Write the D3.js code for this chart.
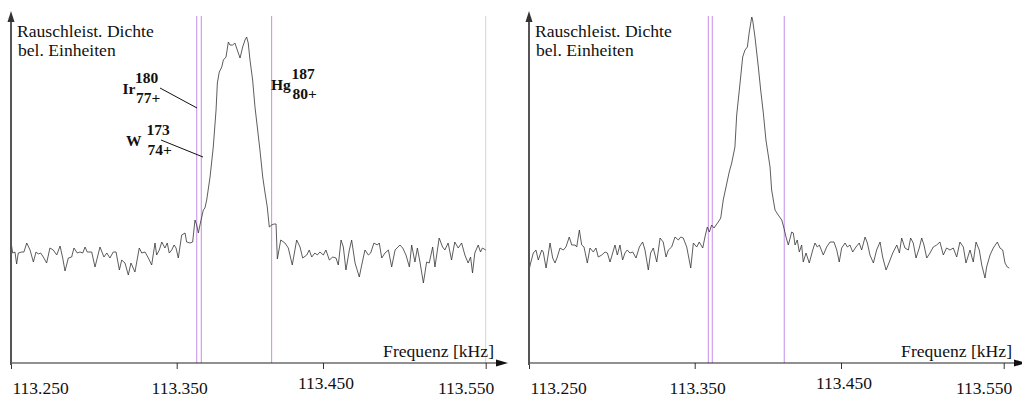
<!DOCTYPE html>
<html>
<head>
<meta charset="utf-8">
<script src="https://cdn.jsdelivr.net/npm/d3@7"></script>
<style>
  body { margin: 0; background: #fff; }
  svg, svg text { font-family: "Liberation Serif", "Times New Roman", Times, "Nimbus Roman", "DejaVu Serif", serif !important; }
</style>
</head>
<body>
<svg id="chart" width="1022" height="396"></svg>
<script>
// frequency axis (kHz) and the offsets of the trace samples (Hz above 113.250 kHz)
const baseKHz = 113.250;
const tickKHz = [113.250, 113.350, 113.450, 113.550];
const tickLabels = ["113.250", "113.350", "113.450", "113.550"];

// left spectrum: Ir/W/Hg mixture, flat-topped peak
const leftHz = [0.0,1.0,2.4,3.4,4.4,6.5,7.8,9.5,11.5,13.5,15.1,16.5,17.9,19.5,21.5,23.5,25.5,27.6,29.6,31.2,
  32.6,34.6,36.6,38.0,40.0,41.6,43.3,44.7,46.0,48.7,50.7,53.7,56.1,57.8,59.7,61.7,63.4,65.4,66.8,68.8,
  70.8,72.4,74.8,77.4,78.9,80.9,82.9,84.9,86.9,87.9,89.5,91.0,92.9,94.3,95.5,97.0,98.4,99.6,101.1,103.4,
  105.7,106.8,109.1,110.9,112.5,113.7,114.8,115.9,118.2,119.3,120.5,122.8,125.0,126.9,127.8,129.1,130.8,131.9,133.7,135.3,
  136.4,138.3,139.8,141.4,143.3,145.1,146.7,147.8,148.9,150.1,151.9,153.5,155.1,156.9,158.8,160.4,161.9,163.3,164.9,166.5,
  167.9,168.8,171.1,174.0,176.3,179.0,182.0,184.3,186.1,188.9,190.6,192.3,194.5,196.1,197.9,200.2,201.8,203.9,206.0,208.0,
  209.4,211.1,212.5,214.1,216.2,217.6,219.7,222.3,223.8,225.8,227.9,229.3,231.3,233.4,234.6,236.1,238.1,240.2,242.2,244.3,
  247.3,249.0,251.0,253.1,254.5,256.5,258.0,259.6,261.7,263.7,265.3,267.4,268.8,271.4,273.5,274.9,276.9,279.0,281.0,283.1,
  285.2,287.2,289.2,290.7,291.9,293.3,295.4,296.8,298.0,300.0];
const leftLevel = [121,110,111,99,110,111,111,120,113,101,111,109,110,106,100,115,113,108,117,105,
  92,105,106,115,110,111,110,116,111,111,96,116,106,110,105,111,111,93,103,100,
  88,100,91,115,110,111,105,98,120,108,113,121,115,120,110,113,118,115,105,128,
  130,121,120,121,143,138,130,138,153,155,163,186,216,253,280,291,296,303,306,321,
  318,318,320,313,305,316,323,326,320,303,283,256,236,213,186,170,156,136,138,139,
  139,104,123,120,115,98,123,116,105,108,113,106,110,108,111,108,113,103,106,105,
  98,123,116,93,113,123,100,86,98,113,108,110,120,118,120,105,110,113,96,113,
  118,115,108,96,118,101,115,101,80,101,100,116,96,125,116,113,120,103,121,115,
  120,108,100,106,90,110,118,111,115,113];

// right spectrum: single narrow peak
const rightHz = [0.0,1.0,2.6,4.2,5.6,7.7,8.6,10.3,12.7,14.3,15.7,17.1,18.7,20.7,22.3,24.3,25.8,27.8,28.8,30.4,
  31.8,33.2,35.2,36.8,38.8,40.4,41.8,43.9,45.9,47.3,48.9,50.5,51.9,53.3,54.9,56.5,57.9,59.3,60.9,62.6,
  64.6,66.6,68.6,70.0,72.0,73.4,75.0,77.1,79.1,81.0,82.7,84.1,86.1,88.1,90.1,91.6,93.1,95.2,97.6,99.2,
  101.4,103.1,105.5,107.0,108.6,110.0,111.6,113.2,114.6,116.1,117.8,119.5,121.4,123.6,125.3,127.5,128.7,131.0,132.8,134.4,
  136.0,137.3,139.0,139.6,141.2,143.5,145.1,146.9,148.7,151.5,152.6,154.9,157.1,159.5,161.0,162.4,164.0,166.3,167.4,168.6,
  170.1,171.5,173.1,174.2,176.1,178.3,180.7,182.2,183.8,185.2,187.9,190.2,192.5,195.2,197.1,198.8,200.4,202.5,203.9,205.5,
  207.2,209.2,211.2,212.7,214.8,216.2,217.8,219.9,221.9,224.0,225.6,227.7,229.7,231.8,234.3,235.9,237.3,239.3,241.4,242.8,
  244.4,246.1,248.1,249.6,251.0,252.7,254.7,256.7,258.8,260.8,262.9,264.9,267.0,269.0,271.1,273.1,275.2,276.8,279.3,281.3,
  283.0,285.0,286.5,288.5,289.5,291.6,293.6,296.1,297.7,299.4,300.8,302.2,303.4];
const rightLevel = [93,100,110,113,103,113,111,95,120,105,100,106,115,113,116,126,118,118,116,133,
  118,116,100,115,111,115,106,108,111,110,101,110,118,108,118,103,110,113,110,111,
  105,116,121,113,93,110,115,101,125,121,106,113,116,126,123,126,125,116,95,120,
  116,121,115,126,136,131,138,135,138,141,145,163,176,191,200,216,248,280,306,313,
  316,331,346,343,326,296,273,250,223,196,173,153,148,143,135,126,118,131,130,118,
  123,111,118,101,110,100,113,120,116,118,108,116,121,121,113,101,115,120,116,118,
  111,116,120,113,126,120,108,100,113,121,106,93,101,110,118,110,125,115,113,125,
  120,105,115,125,118,105,110,116,118,121,108,115,113,115,106,121,116,100,113,101,
  121,113,98,85,96,108,115,121,115,113,100,96,95];

// marker lines (Hz above 113.250 kHz)
const leftMarkersHz = [113.7, 116.8, 164.9];
const leftGridHz = [300.0];
const rightMarkersHz = [109.3, 112.0, 161.2];

const svg = d3.select("#chart");
const panelShift = 518;
const plotTop = 16, plotBottom = 363;

const x = d3.scaleLinear()
    .domain(tickKHz)
    .range([11, 176.7, 323, 485.7]);
const y = d3.scaleLinear()
    .domain([0, 347])
    .range([plotBottom, plotTop]);

const line = d3.line()
    .x(d => x(baseKHz + d[0] / 1000))
    .y(d => y(d[1]));

function drawPanel(g, hz, level, markers, grid) {
    // grey reference line
    g.selectAll(".grid")
        .data(grid)
        .enter().append("line")
        .attr("x1", d => x(baseKHz + d / 1000)).attr("x2", d => x(baseKHz + d / 1000))
        .attr("y1", plotTop).attr("y2", plotBottom)
        .attr("stroke", "#d2d2d2").attr("stroke-width", 1);

    // purple marker lines
    g.selectAll(".marker")
        .data(markers)
        .enter().append("line")
        .attr("x1", d => x(baseKHz + d / 1000)).attr("x2", d => x(baseKHz + d / 1000))
        .attr("y1", plotTop).attr("y2", plotBottom)
        .attr("stroke", "#c58ce8").attr("stroke-width", 1);

    g.append("path")
        .datum(hz.map((h, i) => [h, level[i]]))
        .attr("fill", "none")
        .attr("stroke", "#333")
        .attr("stroke-width", 0.8)
        .attr("d", line);

    // x axis with ticks
    const ax = g.append("g")
        .attr("transform", `translate(0,${plotBottom})`)
        .call(d3.axisBottom(x).tickValues(tickKHz).tickSize(6)
            .tickFormat((d, i) => tickLabels[i]));
    ax.attr("font-family", null);
    ax.select(".domain").remove();
    ax.selectAll(".tick line").attr("stroke", "#333");
    ax.selectAll(".tick text")
        .attr("font-size", 17.5)
        .attr("fill", "#111")
        .attr("dy", 0)
        .attr("y", (d, i) => i === 2 ? 25.5 : 30.5)
        .attr("text-anchor", (d, i) => i === 0 ? "start" : (i === tickKHz.length - 1 ? "end" : "middle"))
        .attr("dx", (d, i) => i === 0 ? 1 : (i === tickKHz.length - 1 ? 8 : 2.5));

    g.append("line")
        .attr("x1", 11).attr("x2", 498)
        .attr("y1", plotBottom).attr("y2", plotBottom)
        .attr("stroke", "#222").attr("stroke-width", 1.2);
    g.append("path")
        .attr("d", `M508,${plotBottom} L496,${plotBottom - 3.5} L496,${plotBottom + 3.5} Z`)
        .attr("fill", "#111");

    // y axis with arrow
    g.append("line")
        .attr("x1", 11).attr("x2", 11)
        .attr("y1", plotBottom + 2).attr("y2", 20)
        .attr("stroke", "#555").attr("stroke-width", 2);
    g.append("path")
        .attr("d", "M11,11 L7.5,22 L14.5,22 Z")
        .attr("fill", "#333");

    g.append("text")
        .attr("x", 17).attr("y", 37)
        .attr("font-size", 17.6).attr("fill", "#111")
        .text("Rauschleist. Dichte");
    g.append("text")
        .attr("x", 18).attr("y", 55.5)
        .attr("font-size", 17.6).attr("fill", "#111")
        .text("bel. Einheiten");
    g.append("text")
        .attr("x", 494).attr("y", 357)
        .attr("text-anchor", "end")
        .attr("font-size", 17.6).attr("fill", "#111")
        .text("Frequenz [kHz]");
}

const left = svg.append("g");
drawPanel(left, leftHz, leftLevel, leftMarkersHz, leftGridHz);
const right = svg.append("g").attr("transform", `translate(${panelShift},0)`);
drawPanel(right, rightHz, rightLevel, rightMarkersHz, []);

// isotope labels in the left panel
function isotope(g, sym, mass, charge, xs, ys, xi) {
    const t = g.append("g").attr("font-weight", "bold").attr("font-size", 15.5).attr("fill", "#111");
    t.append("text").attr("x", xs).attr("y", ys).text(sym);
    t.append("text").attr("x", xi).attr("y", ys - 11).text(mass);
    t.append("text").attr("x", xi + 1).attr("y", ys + 8.5).text(charge);
}
isotope(left, "Ir", "180", "77+", 122.5, 94, 135);
isotope(left, "W", "173", "74+", 126, 146, 146.5);
isotope(left, "Hg", "187", "80+", 271, 90, 291.5);

left.append("line").attr("x1", 160).attr("y1", 88).attr("x2", 197).attr("y2", 108)
    .attr("stroke", "#111").attr("stroke-width", 1);
left.append("line").attr("x1", 161).attr("y1", 140).attr("x2", 203).attr("y2", 157)
    .attr("stroke", "#111").attr("stroke-width", 1);
</script>
</body>
</html>
